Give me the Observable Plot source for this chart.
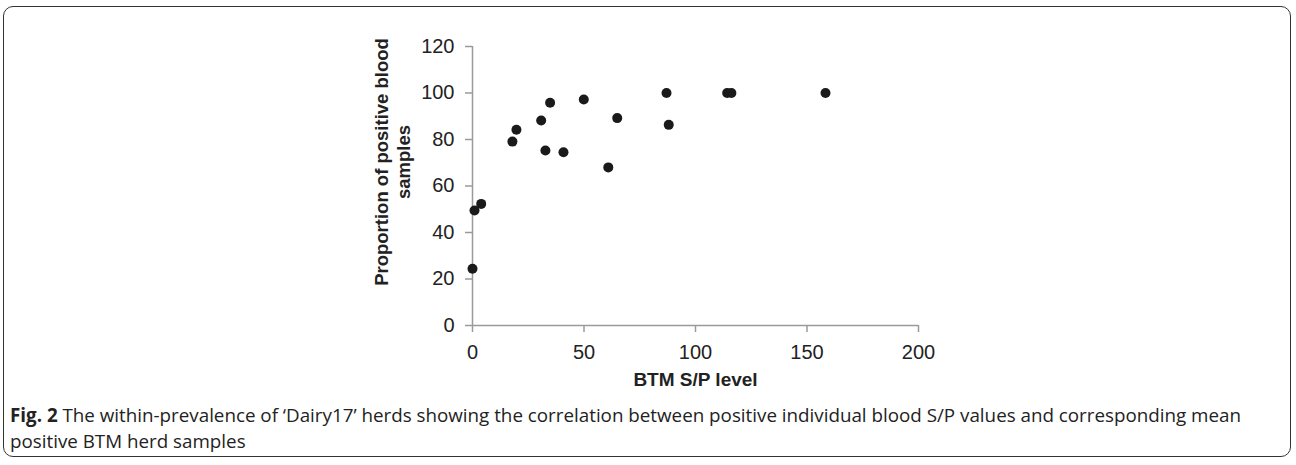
<!DOCTYPE html>
<html>
<head>
<meta charset="utf-8">
<script src="https://cdn.jsdelivr.net/npm/d3@7"></script>
<script src="https://cdn.jsdelivr.net/npm/@observablehq/plot@0.6"></script>
<style>
  html, body { margin: 0; padding: 0; background: #fff; }
  #wrap { position: relative; width: 1296px; height: 465px; overflow: hidden; }
  #frame { position: absolute; left: 3px; top: 6px; width: 1288px; height: 451px;
           border: 1.5px solid #333; border-radius: 10px; box-sizing: border-box; }
  #chart { position: absolute; left: 0; top: 0; }
  #caption { position: absolute; left: 10px; top: 402px; white-space: nowrap;
             font-family: "Open Sans", sans-serif; font-size: 18.8px; line-height: 26px; color: #222; }
  #caption b { font-weight: 700; }
</style>
</head>
<body>
<div id="wrap">
  <div id="frame"></div>
  <div id="chart"></div>
  <div id="caption"><b>Fig. 2</b> The within-prevalence of ‘Dairy17’ herds showing the correlation between positive individual blood S/P values and corresponding mean<br>positive BTM herd samples</div>
</div>
<script>
// Data
const btmLevel = [0, 0.9, 3.9, 17.9, 19.7, 30.8, 32.7, 34.8, 40.8, 49.9, 60.9, 64.9, 87.0, 88.0, 114.2, 116.1, 158.3];
const positiveProportion = [24.4, 49.5, 52.3, 79.1, 84.2, 88.2, 75.3, 95.8, 74.5, 97.2, 68.0, 89.2, 100, 86.3, 100, 100, 100];
const xTicks = [0, 50, 100, 150, 200];
const yTicks = [0, 20, 40, 60, 80, 100, 120];
const xTitle = "BTM S/P level";
const yTitle = "Proportion of positive blood\nsamples";

const points = btmLevel.map((x, i) => ({x, y: positiveProportion[i]}));

const axisColor = "#9a9a9a";
const chart = Plot.plot({
  width: 1296,
  height: 395,
  marginLeft: 472,
  marginRight: 378,
  marginTop: 46,
  marginBottom: 70,
  style: { fontFamily: "'Liberation Sans', Arial, sans-serif", background: "transparent", color: "#222" },
  x: { domain: [0, 200], ticks: xTicks },
  y: { domain: [0, 120], ticks: yTicks },
  marks: [
    Plot.ruleY([0], { stroke: axisColor, strokeWidth: 1.5 }),
    Plot.ruleX([0], { stroke: axisColor, strokeWidth: 1.5 }),
    Plot.axisX({ ticks: xTicks, tickSize: 7, tickPadding: 12, stroke: axisColor, strokeWidth: 1.5,
                 fontSize: 20, fill: "#222", label: null }),
    Plot.axisY({ ticks: yTicks, tickSize: 7, tickPadding: 11, stroke: axisColor, strokeWidth: 1.5,
                 fontSize: 20, fill: "#222", label: null }),
    Plot.dot(points, { x: "x", y: "y", r: 5, fill: "#1a1a1a", stroke: "none" }),
    Plot.text([xTitle], { frameAnchor: "bottom", dy: 60, fontSize: 19, fontWeight: "bold", fill: "#222" }),
    Plot.text([yTitle], { frameAnchor: "left", dx: -81, dy: -24, rotate: -90, fontSize: 18.5,
                          fontWeight: "bold", fill: "#222", lineHeight: 1.2, textAnchor: "middle", lineAnchor: "middle" })
  ]
});
document.getElementById("chart").appendChild(chart);
</script>
</body>
</html>
